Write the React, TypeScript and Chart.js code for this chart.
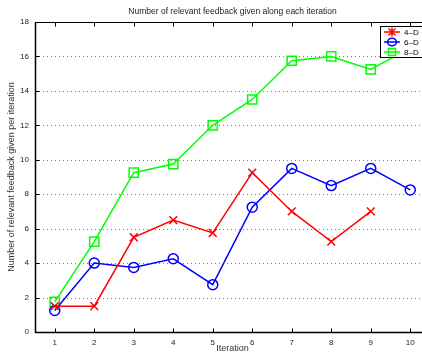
import React, { useEffect, useRef } from "react";
import { Chart, registerables } from "chart.js";
Chart.register(...registerables);

const iterations = ["1", "2", "3", "4", "5", "6", "7", "8", "9", "10"];
const d4 = [1.5, 1.5, 5.5, 6.5, 5.75, 9.25, 7, 5.25, 7, null];
const d6 = [1.25, 4, 3.75, 4.25, 2.75, 7.25, 9.5, 8.5, 9.5, 8.25];
const d8 = [1.75, 5.25, 9.25, 9.75, 12, 13.5, 15.75, 16, 15.25, 16.5];
const yTicks = [0, 2, 4, 6, 8, 10, 12, 14, 16, 18];
const seriesNames = ["4\u2013D", "6\u2013D", "8\u2013D"];
const titleText = "Number of relevant feedback given along each iteration";
const xTitle = "Iteration";
const yTitle = "Number of relevant feedback given per iteration";

const FONT = "'Liberation Sans', Arial, sans-serif";

const framePlugin = {
  id: "frame",
  beforeDatasetsDraw(chart: any) {
    const { ctx, chartArea: a, scales } = chart;
    ctx.save();
    ctx.strokeStyle = "#7a7a7a";
    ctx.lineWidth = 1;
    ctx.setLineDash([1, 3]);
    for (const v of yTicks) {
      if (v === 0 || v === 18) continue;
      const y = Math.round(scales.y.getPixelForValue(v)) + 0.5;
      ctx.beginPath();
      ctx.moveTo(a.left, y);
      ctx.lineTo(a.right, y);
      ctx.stroke();
    }
    ctx.restore();
  },
  afterDatasetsDraw(chart: any) {
    const { ctx, chartArea: a, scales } = chart;
    ctx.save();
    ctx.strokeStyle = "#000";
    ctx.lineWidth = 1;
    ctx.setLineDash([]);
    const L = Math.round(a.left) + 0.5, R = Math.round(a.right) + 0.5;
    const T = Math.round(a.top) + 0.5, B = Math.round(a.bottom) + 0.5;
    ctx.strokeRect(L, T, R - L, B - T);
    ctx.beginPath();
    iterations.forEach((_, i) => {
      const x = Math.round(scales.x.getPixelForValue(i)) + 0.5;
      ctx.moveTo(x, B); ctx.lineTo(x, B - 4);
      ctx.moveTo(x, T); ctx.lineTo(x, T + 4);
    });
    for (const v of yTicks) {
      const y = Math.round(scales.y.getPixelForValue(v)) + 0.5;
      ctx.moveTo(L, y); ctx.lineTo(L + 4, y);
      ctx.moveTo(R, y); ctx.lineTo(R - 4, y);
    }
    ctx.stroke();
    ctx.lineWidth = 1.5;
    ctx.beginPath();
    ctx.moveTo(L, T); ctx.lineTo(L, B); ctx.lineTo(R, B);
    ctx.stroke();

    // legend
    const lx = 380, ly = 26, lw = 60, lh = 31;
    ctx.fillStyle = "#fff";
    ctx.fillRect(lx, ly, lw, lh);
    ctx.lineWidth = 1;
    ctx.strokeStyle = "#000";
    ctx.strokeRect(lx + 0.5, ly + 0.5, lw, lh);
    chart.data.datasets.forEach((ds: any, i: number) => {
      const y = ly + 6 + i * 10;
      ctx.strokeStyle = ds.borderColor;
      ctx.lineWidth = 1.5;
      ctx.beginPath();
      ctx.moveTo(lx + 4, y); ctx.lineTo(lx + 20, y);
      ctx.stroke();
      ctx.beginPath();
      if (i === 0) {
        ctx.moveTo(lx + 12 - 3.5, y - 3.5); ctx.lineTo(lx + 12 + 3.5, y + 3.5);
        ctx.moveTo(lx + 12 + 3.5, y - 3.5); ctx.lineTo(lx + 12 - 3.5, y + 3.5);
        ctx.moveTo(lx + 12, y - 4.5); ctx.lineTo(lx + 12, y + 4.5);
      } else if (i === 1) {
        ctx.ellipse(lx + 12, y, 4.5, 3.8, 0, 0, Math.PI * 2);
      } else {
        ctx.rect(lx + 12 - 3.5, y - 3.5, 7, 7);
      }
      ctx.stroke();
      ctx.fillStyle = "#000";
      ctx.font = `8px ${FONT}`;
      ctx.textAlign = "left";
      ctx.textBaseline = "middle";
      ctx.fillText(ds.label, lx + 24, y + 0.5);
    });

    const cx = (a.left + a.right) / 2;
    ctx.fillStyle = "#222";
    ctx.font = `8.5px ${FONT}`;
    ctx.textAlign = "center";
    ctx.textBaseline = "middle";
    ctx.fillText(titleText, cx, 12);
    ctx.fillStyle = "#333";
    ctx.font = `9px ${FONT}`;
    ctx.fillText(xTitle, cx, 349);
    ctx.save();
    ctx.translate(12, (a.top + a.bottom) / 2);
    ctx.rotate(-Math.PI / 2);
    ctx.fillText(yTitle, 0, 0);
    ctx.restore();
    ctx.restore();
  },
};

export default function App() {
  const ref = useRef<HTMLCanvasElement | null>(null);
  useEffect(() => {
    if (!ref.current) return;
    const chart = new Chart(ref.current, {
      type: "line",
      data: {
        labels: iterations,
        datasets: [
          {
            label: seriesNames[0], data: d4, borderColor: "#ff0000", backgroundColor: "transparent",
            pointStyle: "crossRot", pointRadius: 5.5, pointBorderWidth: 1.5, borderWidth: 1.5,
            pointBorderColor: "#ff0000",
          },
          {
            label: seriesNames[1], data: d6, borderColor: "#0000ff", backgroundColor: "transparent",
            pointStyle: "circle", pointRadius: 5, pointBorderWidth: 1.5, borderWidth: 1.5,
            pointBackgroundColor: "transparent", pointBorderColor: "#0000ff",
          },
          {
            label: seriesNames[2], data: d8, borderColor: "#00ff00", backgroundColor: "transparent",
            pointStyle: "rect", pointRadius: 6.5, pointBorderWidth: 1.5, borderWidth: 1.5,
            pointBackgroundColor: "transparent", pointBorderColor: "#00ff00",
          },
        ],
      } as any,
      options: {
        animation: false,
        responsive: false,
        spanGaps: false,
        layout: { padding: { top: 22, right: 20, left: 0, bottom: 0 } },
        plugins: { legend: { display: false }, title: { display: false }, tooltip: { enabled: false } },
        scales: {
          x: {
            type: "category",
            offset: true,
            grid: { display: false, drawTicks: false },
            border: { display: false },
            ticks: { color: "#222", font: { family: FONT, size: 8 }, padding: 6, maxRotation: 0 },
            afterFit: (s: any) => { s.height = 24; },
          },
          y: {
            min: 0, max: 18,
            grid: { display: false, drawTicks: false },
            border: { display: false },
            ticks: { stepSize: 2, color: "#222", font: { family: FONT, size: 8 }, padding: 6 },
            afterFit: (s: any) => { s.width = 35; },
          },
        },
      } as any,
      plugins: [framePlugin],
    });
    return () => chart.destroy();
  }, []);
  return (
    <div style={{ position: "fixed", left: 0, top: 0, width: 422, height: 356, overflow: "hidden", background: "#fff" }}>
      <canvas ref={ref} width={450} height={356} style={{ width: 450, height: 356, display: "block" }} />
    </div>
  );
}
